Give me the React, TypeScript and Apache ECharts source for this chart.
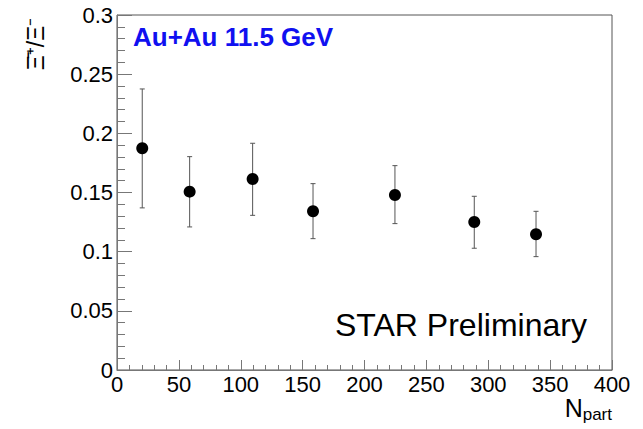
import React, { useEffect, useRef } from "react";
import * as echarts from "echarts";

const npart = [20.4, 58.7, 109.6, 158.4, 224.6, 288.7, 338.6];
const ratio = [0.1874, 0.1507, 0.1614, 0.1341, 0.1479, 0.1251, 0.1147];
const errLow = [0.137, 0.1209, 0.1307, 0.111, 0.1237, 0.1029, 0.0958];
const errHigh = [0.2375, 0.1803, 0.1916, 0.1575, 0.1727, 0.1468, 0.1341];

const FONT = "Liberation Sans, Arial, Helvetica, sans-serif";

export default function App() {
  const ref = useRef<HTMLDivElement>(null);
  useEffect(() => {
    if (!ref.current) return;
    const chart = echarts.init(ref.current, undefined, { renderer: "svg" });
    const points = npart.map((x, i) => [x, ratio[i]]);
    const errs = npart.map((x, i) => [x, errLow[i], errHigh[i]]);
    chart.setOption({
      animation: false,
      backgroundColor: "#ffffff",
      grid: {
        left: 117,
        right: 31,
        top: 15,
        bottom: 59,
        show: true,
        borderColor: "#555",
        borderWidth: 1,
        backgroundColor: "transparent",
      },
      xAxis: {
        type: "value",
        min: 0,
        max: 400,
        interval: 50,
        name: "{n|N}{s|part}",
        nameLocation: "end",
        nameGap: 0,
        nameTextStyle: {
          align: "right",
          verticalAlign: "top",
          padding: [22, 0, 0, 0],
          rich: {
            n: { fontFamily: FONT, fontSize: 25, color: "#000" },
            s: { fontFamily: FONT, fontSize: 17, color: "#000", padding: [14, 0, 0, 0] },
          },
        },
        axisLine: { show: true, lineStyle: { color: "#777", width: 1 } },
        axisTick: { show: true, inside: true, length: 10, lineStyle: { color: "#777" } },
        minorTick: { show: true, splitNumber: 5, length: 5, lineStyle: { color: "#777" } },
        splitLine: { show: false },
        axisLabel: { fontFamily: FONT, fontSize: 22, color: "#000", margin: 3 },
      },
      yAxis: {
        type: "value",
        min: 0,
        max: 0.3,
        interval: 0.05,
        axisLine: { show: true, lineStyle: { color: "#777", width: 1 } },
        axisTick: { show: true, inside: true, length: 15, lineStyle: { color: "#777" } },
        minorTick: { show: true, splitNumber: 5, length: 8, lineStyle: { color: "#777" } },
        splitLine: { show: false },
        axisLabel: { fontFamily: FONT, fontSize: 22, color: "#000", margin: 4 },
      },
      graphic: [
        {
          type: "text",
          x: 133,
          y: 24,
          style: {
            text: "Au+Au 11.5 GeV",
            fontFamily: FONT,
            fontSize: 26,
            fontWeight: "bold",
            fill: "#1010f0",
          },
        },
        {
          type: "text",
          x: 335,
          y: 309,
          style: {
            text: "STAR Preliminary",
            fontFamily: FONT,
            fontSize: 32,
            fill: "#000",
          },
        },
        {
          type: "text",
          x: 36,
          y: 44,
          rotation: Math.PI / 2,
          style: {
            text: "Ξ̄⁺/Ξ⁻",
            fontFamily: FONT,
            fontSize: 23,
            fill: "#000",
            align: "center",
            verticalAlign: "middle",
          },
        },
      ],
      series: [
        {
          type: "custom",
          data: errs,
          renderItem: (params: any, api: any) => {
            const x = api.value(0);
            const lo = api.coord([x, api.value(1)]);
            const hi = api.coord([x, api.value(2)]);
            const cap = 2.5;
            const style = { stroke: "#555", lineWidth: 1 };
            return {
              type: "group",
              children: [
                { type: "line", shape: { x1: lo[0], y1: lo[1], x2: hi[0], y2: hi[1] }, style },
                { type: "line", shape: { x1: lo[0] - cap, y1: lo[1], x2: lo[0] + cap, y2: lo[1] }, style },
                { type: "line", shape: { x1: hi[0] - cap, y1: hi[1], x2: hi[0] + cap, y2: hi[1] }, style },
              ],
            };
          },
          z: 1,
        },
        {
          type: "scatter",
          data: points,
          symbol: "circle",
          symbolSize: 12,
          itemStyle: { color: "#000", opacity: 1 },
          z: 2,
        },
      ],
    });
    return () => chart.dispose();
  }, []);
  return (
    <div
      ref={ref}
      style={{ position: "absolute", left: 0, top: 0, width: 643, height: 429 }}
    />
  );
}
